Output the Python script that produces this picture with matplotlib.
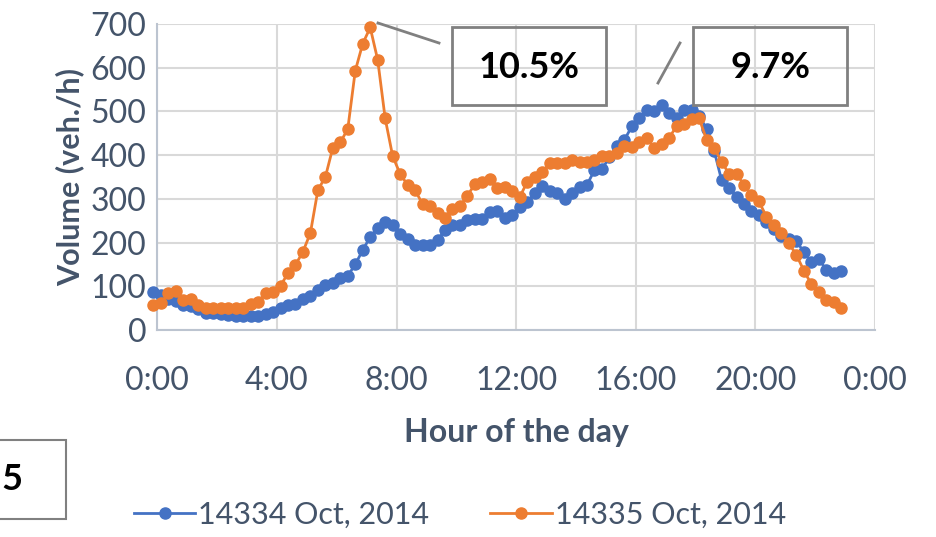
import numpy as np
import matplotlib
matplotlib.use('Agg')
import matplotlib.pyplot as plt
from matplotlib.patches import Rectangle
from matplotlib.lines import Line2D

# 15-minute counts, first sample slightly before midnight on the chart
start_hour = -0.13
step_hour = 0.25

day_14334 = [88, 80, 72, 66, 58, 54, 48, 40, 38, 36, 34, 33, 32, 32, 32, 36,
             42, 50, 57, 60, 70, 78, 92, 102, 108, 118, 124, 150, 183, 213, 234,
             248, 240, 220, 208, 194, 194, 194, 205, 229, 240, 240, 252, 254,
             254, 270, 272, 257, 262, 282, 292, 314, 330, 318, 313, 300, 314,
             328, 332, 366, 368, 395, 420, 435, 466, 484, 503, 500, 515, 497,
             486, 503, 503, 490, 460, 410, 343, 324, 305, 288, 272, 262, 248,
             230, 214, 208, 204, 178, 156, 162, 138, 130, 136]
day_14335 = [57, 61, 84, 89, 69, 70, 57, 50, 50, 50, 50, 50, 51, 59, 65, 84,
             88, 101, 130, 149, 179, 222, 320, 350, 417, 429, 460, 593, 655,
             692, 618, 484, 398, 357, 332, 320, 288, 284, 267, 256, 276, 284,
             307, 334, 339, 345, 324, 327, 317, 304, 339, 351, 362, 381, 381,
             381, 389, 385, 385, 390, 397, 397, 406, 420, 418, 429, 439, 416,
             426, 440, 467, 471, 482, 484, 435, 417, 385, 357, 357, 332, 309,
             294, 259, 240, 223, 198, 172, 136, 105, 88, 69, 63, 50]

series_names = ['14334 Oct, 2014', '14335 Oct, 2014']
series_colors = ['#4472C4', '#ED7D31']
peak_labels = ['10.5%', '9.7%']

x_ticks = [0, 4, 8, 12, 16, 20, 24]
x_tick_labels = ['0:00', '4:00', '8:00', '12:00', '16:00', '20:00', '0:00']
y_ticks = [0, 100, 200, 300, 400, 500, 600, 700]

text_color = '#44546A'
plt.rcParams['font.family'] = ['Lato', 'DejaVu Sans']

W, H = 936, 537
fig = plt.figure(figsize=(W / 100, H / 100), dpi=100)
ax = fig.add_axes([157.3 / W, 1 - 330 / H, (875 - 157.3) / W, 306 / H])

hours = start_hour + step_hour * np.arange(len(day_14334))
for values, color in zip([day_14334, day_14335], series_colors):
    ax.plot(hours, values, color=color, lw=2, marker='o', ms=8,
            mec=color, mfc=color, clip_on=False, zorder=3)

ax.set_xlim(0, 24)
ax.set_ylim(0, 700)
ax.set_xticks(x_ticks)
ax.set_xticklabels(x_tick_labels)
ax.set_yticks(y_ticks)
ax.grid(True, color='#D9D9D9', lw=1.5)
ax.set_axisbelow(True)
for side in ['top', 'right']:
    ax.spines[side].set_visible(False)
for side in ['left', 'bottom']:
    ax.spines[side].set_color('#BCC4D0')
    ax.spines[side].set_linewidth(1.5)
ax.tick_params(length=0, labelsize=23, colors=text_color, pad=8)
ax.tick_params(axis='x', pad=26)
ax.set_xlabel('Hour of the day', fontsize=23, fontweight='bold',
              color=text_color, labelpad=16)
ax.set_ylabel('Volume (veh./h)', fontsize=22, fontweight='bold',
              color=text_color, labelpad=4)

# Percentage call-out boxes with leader lines
boxes = [(451.7, 27.3), (692.7, 27.3)]
leaders = [((378, 23), (439, 43)), ((680, 43), (658, 83))]
for (bx, by), label in zip(boxes, peak_labels):
    fig.add_artist(Rectangle((bx / W, 1 - (by + 77.7) / H), 154.6 / W, 77.7 / H,
                             transform=fig.transFigure, fill=False,
                             ec='#808080', lw=2))
    fig.text((bx + 77.3) / W, 1 - (by + 40) / H, label, ha='center',
             va='center', fontsize=26, fontweight='bold', color='black')
for (x0, y0), (x1, y1) in leaders:
    fig.add_artist(Line2D([x0 / W, x1 / W], [1 - y0 / H, 1 - y1 / H],
                          transform=fig.transFigure, color='#808080', lw=2))

# Partly visible box at the lower left
fig.add_artist(Rectangle((-5 / W, 1 - 519 / H), 71 / W, 79 / H,
                         transform=fig.transFigure, fill=False,
                         ec='#808080', lw=1.5))
fig.text(1 / W, 1 - 480 / H, '5', ha='left', va='center', fontsize=26,
         fontweight='bold', color='black')

handles = [Line2D([], [], color=c, lw=2, marker='o', ms=8) for c in series_colors]
fig.legend(handles, series_names, loc='center', bbox_to_anchor=(460 / W, 1 - 515 / H),
           ncol=2, frameon=False, fontsize=22, labelcolor=text_color,
           handlelength=2.0, handletextpad=0.1, columnspacing=2.0)

fig.savefig('out.png', dpi=100)
